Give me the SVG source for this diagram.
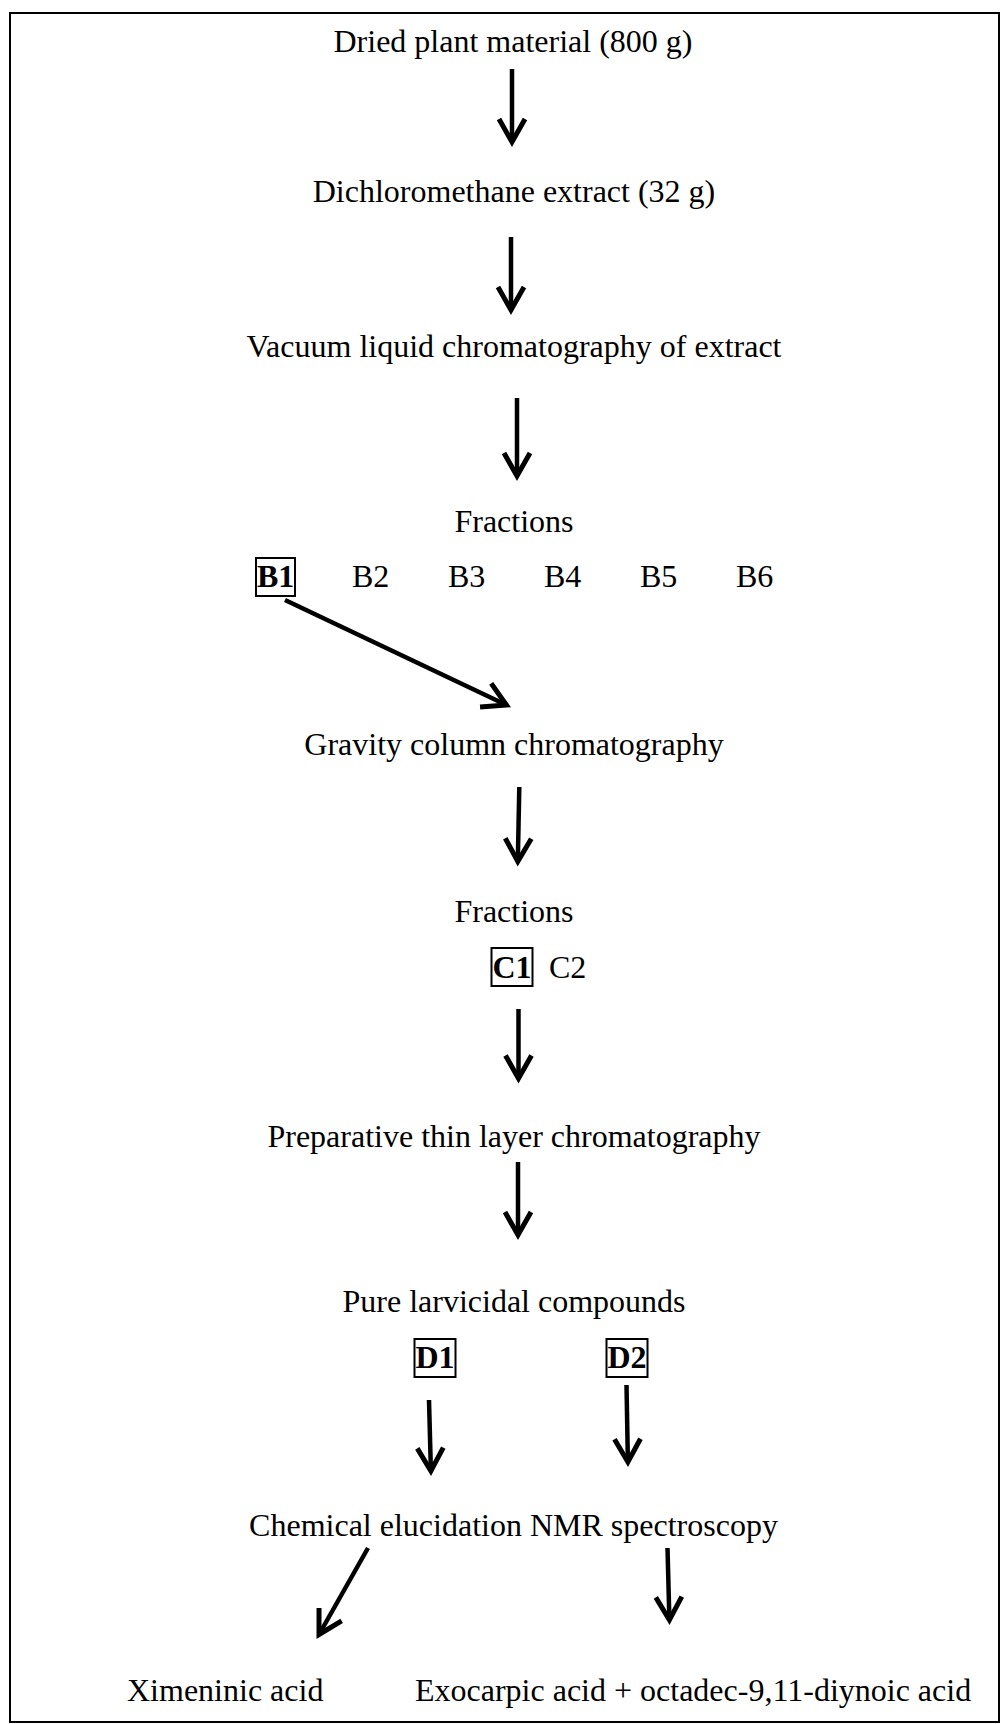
<svg xmlns="http://www.w3.org/2000/svg" width="1008" height="1724" viewBox="0 0 1008 1724">
<style>
text{font-family:"Liberation Serif","Times New Roman",serif;font-size:32px;fill:#000}
.c{text-anchor:middle}
.b{font-weight:bold}
.box{fill:none;stroke:#000;stroke-width:2}
.arr{stroke:#000;stroke-width:4.5;fill:none;marker-end:url(#ah)}
</style>
<defs>
<marker id="ah" markerUnits="userSpaceOnUse" markerWidth="44" markerHeight="44" refX="30" refY="22" orient="auto" overflow="visible">
<path d="M7 9 L30 22 L7 35" fill="none" stroke="#000" stroke-width="5" stroke-linejoin="miter"/>
</marker>
</defs>
<rect x="10" y="13" width="989" height="1709" fill="#fff" stroke="#000" stroke-width="2"/>
<g id="n1"><text class="c" x="513" y="52">Dried plant material (800 g)</text></g>
<g id="n2"><text class="c" x="514" y="202">Dichloromethane extract (32 g)</text></g>
<g id="n3"><text class="c" x="514" y="357">Vacuum liquid chromatography of extract</text></g>
<g id="n4"><text class="c" x="514" y="532">Fractions</text></g>
<g id="B1"><rect class="box" x="256" y="558" width="39" height="38"/><text class="b" x="257" y="587">B1</text></g>
<g id="B2"><text x="352" y="587">B2</text></g>
<g id="B3"><text x="448" y="587">B3</text></g>
<g id="B4"><text x="544" y="587">B4</text></g>
<g id="B5"><text x="640" y="587">B5</text></g>
<g id="B6"><text x="736" y="587">B6</text></g>
<g id="n5"><text class="c" x="514" y="755">Gravity column chromatography</text></g>
<g id="n6"><text class="c" x="514" y="922">Fractions</text></g>
<g id="C1"><rect class="box" x="491.5" y="948" width="41" height="38"/><text class="b" x="492.5" y="978">C1</text></g>
<g id="C2"><text x="549" y="978">C2</text></g>
<g id="n7"><text class="c" x="514" y="1147">Preparative thin layer chromatography</text></g>
<g id="n8"><text class="c" x="514" y="1312">Pure larvicidal compounds</text></g>
<g id="D1"><rect class="box" x="414.5" y="1339" width="41" height="38"/><text class="b" x="415.5" y="1368">D1</text></g>
<g id="D2"><rect class="box" x="606.5" y="1339" width="41" height="38"/><text class="b" x="607.5" y="1368">D2</text></g>
<g id="n9"><text class="c" x="513.5" y="1536">Chemical elucidation NMR spectroscopy</text></g>
<g id="n10"><text x="127" y="1701">Ximeninic acid</text></g>
<g id="n11"><text x="415" y="1701">Exocarpic acid + octadec-9,11-diynoic acid</text></g>
<g id="connectors">
<line class="arr" x1="512" y1="69" x2="512" y2="142"/>
<line class="arr" x1="511" y1="237" x2="511" y2="310"/>
<line class="arr" x1="517" y1="398" x2="517" y2="476"/>
<line class="arr" x1="285" y1="600" x2="506.4" y2="705"/>
<line class="arr" x1="519.3" y1="787" x2="517.8" y2="861.5"/>
<line class="arr" x1="518.5" y1="1009" x2="518.5" y2="1078.5"/>
<line class="arr" x1="518" y1="1162" x2="518" y2="1235"/>
<line class="arr" x1="429" y1="1400" x2="430.9" y2="1471"/>
<line class="arr" x1="626.5" y1="1385" x2="627.9" y2="1462"/>
<line class="arr" x1="368" y1="1548" x2="319" y2="1634.5"/>
<line class="arr" x1="667.5" y1="1548" x2="669.4" y2="1620"/>
</g>
</svg>
